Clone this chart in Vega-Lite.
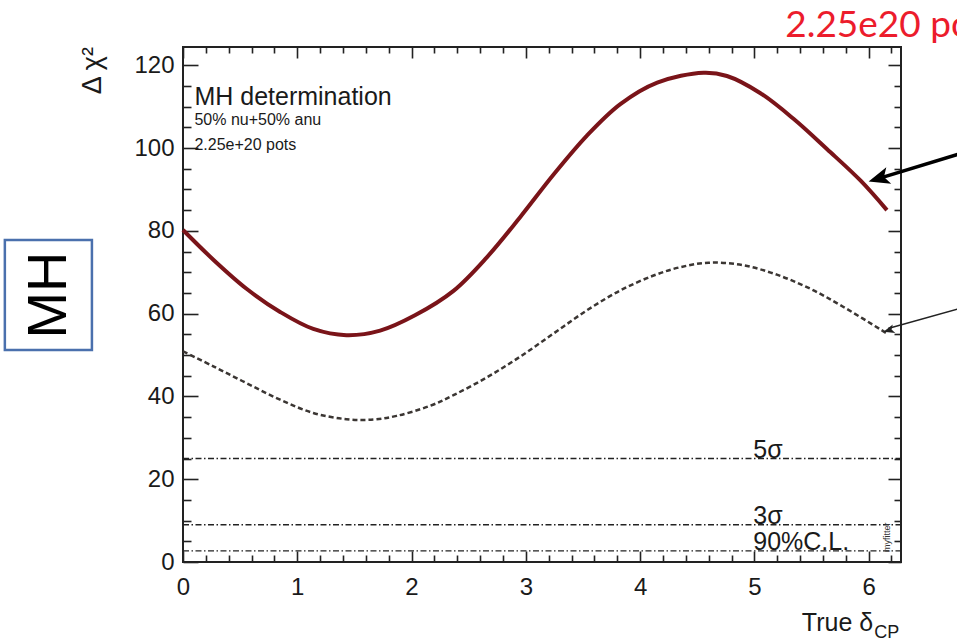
{
  "$schema": "https://vega.github.io/schema/vega-lite/v6.json",
  "width": 718,
  "height": 515,
  "autosize": {"type": "none"},
  "padding": {"left": 183, "top": 47, "right": 56, "bottom": 80},
  "background": "white",
  "config": {
    "view": {"stroke": "#222222", "strokeWidth": 2},
    "axis": {"grid": false, "domain": false, "labelFont": "Liberation Sans", "labelColor": "#1a1a1a", "tickColor": "#222222", "tickWidth": 1.6}
  },
  "resolve": {"axis": {"x": "independent", "y": "independent"}},
  "layer": [
    {
      "data": {"values": [{"level": 25}, {"level": 9}, {"level": 2.71}]},
      "mark": {"type": "rule", "stroke": "#222222", "strokeWidth": 1.3, "strokeDash": [6, 2.5, 1.5, 2.5]},
      "encoding": {
        "x": {"datum": 0, "type": "quantitative", "scale": {"domain": [0, 6.2832], "nice": false, "zero": false}, "axis": null},
        "x2": {"datum": 6.2832},
        "y": {"field": "level", "type": "quantitative", "scale": {"domain": [0, 124.4], "nice": false, "zero": false}, "axis": null}
      }
    },
    {
      "data": {"values": [
        {"x": 0.0, "y": 50.9}, {"x": 0.27, "y": 47.2}, {"x": 0.556, "y": 43.2}, {"x": 0.85, "y": 39.2},
        {"x": 1.14, "y": 36.0}, {"x": 1.43, "y": 34.5}, {"x": 1.667, "y": 34.4}, {"x": 1.87, "y": 35.3},
        {"x": 2.16, "y": 37.7}, {"x": 2.367, "y": 40.3}, {"x": 2.659, "y": 44.6}, {"x": 2.95, "y": 49.6},
        {"x": 3.243, "y": 55.2}, {"x": 3.535, "y": 60.8}, {"x": 3.827, "y": 65.6}, {"x": 4.118, "y": 69.2},
        {"x": 4.35, "y": 71.2}, {"x": 4.6, "y": 72.3}, {"x": 4.9, "y": 71.7}, {"x": 5.197, "y": 69.4},
        {"x": 5.49, "y": 66.0}, {"x": 5.78, "y": 61.6}, {"x": 6.16, "y": 55.2}
      ]},
      "mark": {"type": "line", "stroke": "#3b3633", "strokeWidth": 2.5, "strokeDash": [5, 3], "interpolate": "catmull-rom"},
      "encoding": {
        "x": {"field": "x", "type": "quantitative", "scale": {"domain": [0, 6.2832], "nice": false, "zero": false},
              "axis": {"orient": "bottom", "values": [0, 1, 2, 3, 4, 5, 6], "labels": false, "domain": false, "offset": -11, "tickSize": 11, "title": null}},
        "y": {"field": "y", "type": "quantitative", "scale": {"domain": [0, 124.4], "nice": false, "zero": false},
              "axis": {"orient": "left", "values": [0, 20, 40, 60, 80, 100, 120], "labels": false, "domain": false, "offset": -15, "tickSize": 15, "title": null}}
      }
    },
    {
      "data": {"values": [
        {"x": 0.0, "y": 80.2}, {"x": 0.27, "y": 72.9}, {"x": 0.556, "y": 66.0}, {"x": 0.85, "y": 60.4},
        {"x": 1.14, "y": 56.3}, {"x": 1.43, "y": 54.8}, {"x": 1.725, "y": 55.9}, {"x": 2.03, "y": 59.6},
        {"x": 2.367, "y": 65.5}, {"x": 2.659, "y": 73.6}, {"x": 2.95, "y": 83.3}, {"x": 3.243, "y": 93.6},
        {"x": 3.535, "y": 103.0}, {"x": 3.827, "y": 110.6}, {"x": 4.15, "y": 115.8}, {"x": 4.556, "y": 118.2},
        {"x": 4.76, "y": 117.4}, {"x": 5.05, "y": 113.3}, {"x": 5.345, "y": 107.0}, {"x": 5.637, "y": 99.7},
        {"x": 5.93, "y": 92.1}, {"x": 6.16, "y": 85.0}
      ]},
      "mark": {"type": "line", "stroke": "#7a1419", "strokeWidth": 4, "interpolate": "catmull-rom"},
      "encoding": {
        "x": {"field": "x", "type": "quantitative", "scale": {"domain": [0, 6.2832], "nice": false, "zero": false},
              "axis": {"orient": "bottom", "values": [0, 1, 2, 3, 4, 5, 6], "ticks": false, "tickSize": 0, "domain": false, "labelFontSize": 24, "labelPadding": 13, "labelFlush": false, "labelOverlap": false, "title": null}},
        "y": {"field": "y", "type": "quantitative", "scale": {"domain": [0, 124.4], "nice": false, "zero": false},
              "axis": {"orient": "left", "values": [0, 20, 40, 60, 80, 100, 120], "ticks": false, "tickSize": 0, "domain": false, "labelFontSize": 24, "labelPadding": 9, "labelFlush": false, "labelOverlap": false, "title": null}}
      }
    },
    {
      "data": {"values": [{"level": 25, "label": "5σ"}, {"level": 9, "label": "3σ"}, {"level": 2.71, "label": "90%C.L."}]},
      "mark": {"type": "text", "align": "left", "baseline": "alphabetic", "font": "Liberation Sans", "fontSize": 25, "color": "#1a1a1a", "dy": -1},
      "encoding": {
        "x": {"datum": 4.99, "type": "quantitative", "scale": {"domain": [0, 6.2832], "nice": false, "zero": false}, "axis": null},
        "y": {"field": "level", "type": "quantitative", "scale": {"domain": [0, 124.4], "nice": false, "zero": false}, "axis": null},
        "text": {"field": "label"}
      }
    },
    {
      "data": {"values": [{"x": 0.1, "y": 110.3, "t": "MH determination"}]},
      "mark": {"type": "text", "align": "left", "baseline": "alphabetic", "font": "Liberation Sans", "fontSize": 25, "color": "#1a1a1a"},
      "encoding": {
        "x": {"field": "x", "type": "quantitative", "scale": {"domain": [0, 6.2832], "nice": false, "zero": false},
              "axis": {"orient": "top", "values": [0, 1, 2, 3, 4, 5, 6], "labels": false, "domain": false, "offset": -11, "tickSize": 11, "title": null}},
        "y": {"field": "y", "type": "quantitative", "scale": {"domain": [0, 124.4], "nice": false, "zero": false},
              "axis": {"orient": "right", "values": [0, 20, 40, 60, 80, 100, 120], "labels": false, "domain": false, "offset": -13, "tickSize": 13, "title": null}},
        "text": {"field": "t"}
      }
    },
    {
      "data": {"values": [{"x": 0.1, "y": 105.6, "t": "50% nu+50% anu"}, {"x": 0.1, "y": 99.5, "t": "2.25e+20 pots"}]},
      "mark": {"type": "text", "align": "left", "baseline": "alphabetic", "font": "Liberation Sans", "fontSize": 16, "color": "#1a1a1a"},
      "encoding": {
        "x": {"field": "x", "type": "quantitative", "scale": {"domain": [0, 6.2832], "nice": false, "zero": false},
              "axis": {"orient": "top", "values": [0.2, 0.4, 0.6, 0.8, 1.2, 1.4, 1.6, 1.8, 2.2, 2.4, 2.6, 2.8, 3.2, 3.4, 3.6, 3.8, 4.2, 4.4, 4.6, 4.8, 5.2, 5.4, 5.6, 5.8, 6.2], "labels": false, "domain": false, "offset": -6, "tickSize": 6, "title": null}},
        "y": {"field": "y", "type": "quantitative", "scale": {"domain": [0, 124.4], "nice": false, "zero": false},
              "axis": {"orient": "right", "values": [5, 10, 15, 25, 30, 35, 45, 50, 55, 65, 70, 75, 85, 90, 95, 105, 110, 115], "labels": false, "domain": false, "offset": -7, "tickSize": 7, "title": null}},
        "text": {"field": "t"}
      }
    },
    {
      "data": {"values": [{"x": 7.0, "y": 100.3, "x2": 6.07, "y2": 92.5}]},
      "mark": {"type": "rule", "stroke": "#000000", "strokeWidth": 3.5},
      "encoding": {
        "x": {"field": "x", "type": "quantitative", "scale": {"domain": [0, 6.2832], "nice": false, "zero": false},
              "axis": {"orient": "bottom", "values": [0.2, 0.4, 0.6, 0.8, 1.2, 1.4, 1.6, 1.8, 2.2, 2.4, 2.6, 2.8, 3.2, 3.4, 3.6, 3.8, 4.2, 4.4, 4.6, 4.8, 5.2, 5.4, 5.6, 5.8, 6.2], "labels": false, "domain": false, "offset": -7, "tickSize": 7, "title": null}},
        "y": {"field": "y", "type": "quantitative", "scale": {"domain": [0, 124.4], "nice": false, "zero": false},
              "axis": {"orient": "left", "values": [5, 10, 15, 25, 30, 35, 45, 50, 55, 65, 70, 75, 85, 90, 95, 105, 110, 115], "labels": false, "domain": false, "offset": -8, "tickSize": 8, "title": null}},
        "x2": {"field": "x2"},
        "y2": {"field": "y2"}
      }
    },
    {
      "data": {"values": [{"x": 7.0, "y": 62.8, "x2": 6.17, "y2": 56.4}]},
      "mark": {"type": "rule", "stroke": "#222222", "strokeWidth": 1.5},
      "encoding": {
        "x": {"field": "x", "type": "quantitative", "scale": {"domain": [0, 6.2832], "nice": false, "zero": false}, "axis": null},
        "y": {"field": "y", "type": "quantitative", "scale": {"domain": [0, 124.4], "nice": false, "zero": false}, "axis": null},
        "x2": {"field": "x2"},
        "y2": {"field": "y2"}
      }
    },
    {
      "data": {"values": [{"x": 6.0, "y": 91.9}]},
      "mark": {"type": "point", "shape": "M0,0L-0.85,2.1L0,1.6L0.85,2.1Z", "filled": true, "color": "#000000", "opacity": 1, "size": 400, "angle": 253.25},
      "encoding": {
        "x": {"field": "x", "type": "quantitative", "scale": {"domain": [0, 6.2832], "nice": false, "zero": false}, "axis": null},
        "y": {"field": "y", "type": "quantitative", "scale": {"domain": [0, 124.4], "nice": false, "zero": false}, "axis": null}
      }
    },
    {
      "data": {"values": [{"x": 6.13, "y": 55.6}]},
      "mark": {"type": "point", "shape": "M0,0L-0.85,2.1L0,1.6L0.85,2.1Z", "filled": true, "color": "#222222", "opacity": 1, "size": 110, "angle": 253.5},
      "encoding": {
        "x": {"field": "x", "type": "quantitative", "scale": {"domain": [0, 6.2832], "nice": false, "zero": false}, "axis": null},
        "y": {"field": "y", "type": "quantitative", "scale": {"domain": [0, 124.4], "nice": false, "zero": false}, "axis": null}
      }
    },
    {
      "data": {"values": [{"x": 5.27, "y": 126.8, "t": "2.25e20 pots"}]},
      "mark": {"type": "text", "align": "left", "baseline": "alphabetic", "font": "Lato", "fontSize": 37, "color": "#ec1c2c"},
      "encoding": {
        "x": {"field": "x", "type": "quantitative", "scale": {"domain": [0, 6.2832], "nice": false, "zero": false}, "axis": null},
        "y": {"field": "y", "type": "quantitative", "scale": {"domain": [0, 124.4], "nice": false, "zero": false}, "axis": null},
        "text": {"field": "t"}
      }
    },
    {
      "data": {"values": [{"x": -0.79, "y": 124.4, "t": "Δ χ²"}]},
      "mark": {"type": "text", "align": "right", "baseline": "middle", "angle": 270, "font": "Liberation Sans", "fontSize": 27, "color": "#1a1a1a"},
      "encoding": {
        "x": {"field": "x", "type": "quantitative", "scale": {"domain": [0, 6.2832], "nice": false, "zero": false}, "axis": null},
        "y": {"field": "y", "type": "quantitative", "scale": {"domain": [0, 124.4], "nice": false, "zero": false}, "axis": null},
        "text": {"field": "t"}
      }
    },
    {
      "data": {"values": [{"x": 6.04, "y": -16.7, "t": "True δ"}]},
      "mark": {"type": "text", "align": "right", "baseline": "alphabetic", "font": "Liberation Sans", "fontSize": 25, "color": "#1a1a1a"},
      "encoding": {
        "x": {"field": "x", "type": "quantitative", "scale": {"domain": [0, 6.2832], "nice": false, "zero": false}, "axis": null},
        "y": {"field": "y", "type": "quantitative", "scale": {"domain": [0, 124.4], "nice": false, "zero": false}, "axis": null},
        "text": {"field": "t"}
      }
    },
    {
      "data": {"values": [{"x": 6.05, "y": -18.3, "t": "CP"}]},
      "mark": {"type": "text", "align": "left", "baseline": "alphabetic", "font": "Liberation Sans", "fontSize": 18, "color": "#1a1a1a"},
      "encoding": {
        "x": {"field": "x", "type": "quantitative", "scale": {"domain": [0, 6.2832], "nice": false, "zero": false}, "axis": null},
        "y": {"field": "y", "type": "quantitative", "scale": {"domain": [0, 124.4], "nice": false, "zero": false}, "axis": null},
        "text": {"field": "t"}
      }
    },
    {
      "data": {"values": [{"x": 6.16, "y": 6.0, "t": "myfitter"}]},
      "mark": {"type": "text", "align": "center", "baseline": "middle", "angle": 270, "font": "Liberation Sans", "fontSize": 9, "color": "#333333"},
      "encoding": {
        "x": {"field": "x", "type": "quantitative", "scale": {"domain": [0, 6.2832], "nice": false, "zero": false}, "axis": null},
        "y": {"field": "y", "type": "quantitative", "scale": {"domain": [0, 124.4], "nice": false, "zero": false}, "axis": null},
        "text": {"field": "t"}
      }
    },
    {
      "data": {"values": [{"x": -1.559, "x2": -0.797, "y": 77.8, "y2": 51.2}]},
      "mark": {"type": "rect", "fill": "#ffffff", "stroke": "#4a70ad", "strokeWidth": 2.5},
      "encoding": {
        "x": {"field": "x", "type": "quantitative", "scale": {"domain": [0, 6.2832], "nice": false, "zero": false}, "axis": null},
        "y": {"field": "y", "type": "quantitative", "scale": {"domain": [0, 124.4], "nice": false, "zero": false}, "axis": null},
        "x2": {"field": "x2"},
        "y2": {"field": "y2"}
      }
    },
    {
      "data": {"values": [{"x": -1.173, "y": 64.5, "t": "MH"}]},
      "mark": {"type": "text", "align": "center", "baseline": "middle", "angle": 270, "font": "Liberation Sans", "fontSize": 56, "color": "#000000"},
      "encoding": {
        "x": {"field": "x", "type": "quantitative", "scale": {"domain": [0, 6.2832], "nice": false, "zero": false}, "axis": null},
        "y": {"field": "y", "type": "quantitative", "scale": {"domain": [0, 124.4], "nice": false, "zero": false}, "axis": null},
        "text": {"field": "t"}
      }
    }
  ]
}
